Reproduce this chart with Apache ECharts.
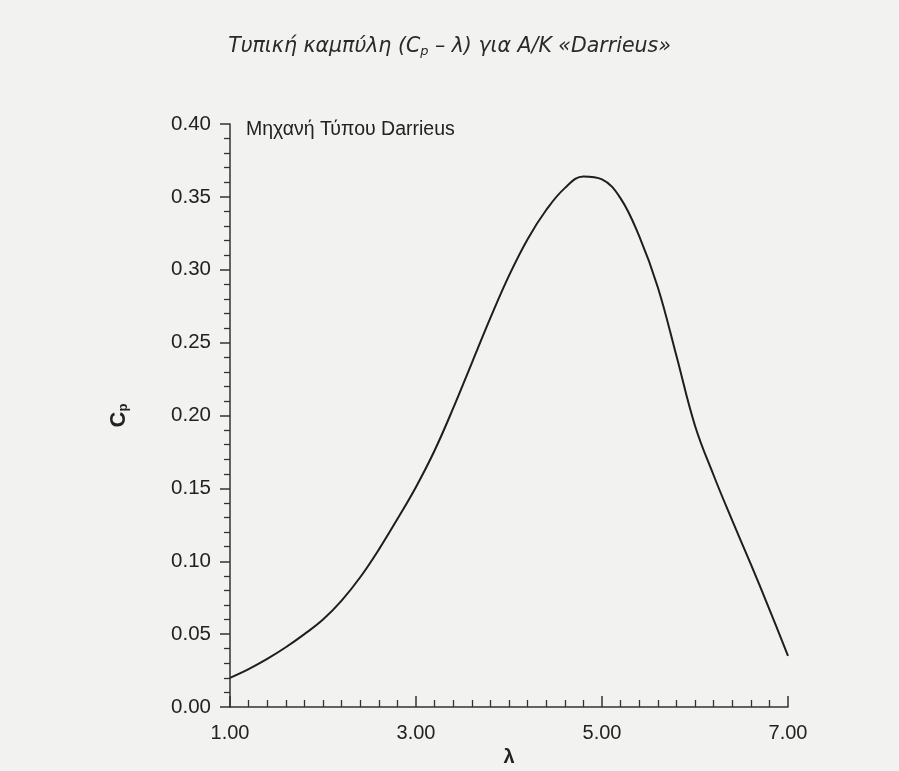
<!DOCTYPE html>
<html>
<head>
<meta charset="utf-8">
<script src="https://cdn.jsdelivr.net/npm/echarts@6/dist/echarts.min.js"></script>
<style>
html,body{margin:0;padding:0;background:#f2f2f0;}
#chart{width:899px;height:771px;}
</style>
</head>
<body>
<div id="chart"></div>
<script>
const lambdaValues = [1.0,1.2,1.4,1.6,1.8,2.0,2.2,2.4,2.6,2.8,3.0,3.2,3.4,3.6,3.8,4.0,4.2,4.4,4.6,4.8,5.0,5.2,5.4,5.6,5.8,6.0,6.2,6.4,6.6,6.8,7.0];
const cpValues = [0.020,0.026,0.033,0.041,0.050,0.060,0.073,0.089,0.108,0.129,0.151,0.176,0.205,0.236,0.267,0.296,0.321,0.341,0.356,0.364,0.362,0.349,0.323,0.288,0.241,0.193,0.159,0.128,0.098,0.067,0.035];
const seriesName = 'Μηχανή Τύπου Darrieus';
const xTicks = [1, 7, 2];   // min, max, interval
const yTicks = [0, 0.4, 0.05];

const chart = echarts.init(document.getElementById('chart'));
const font = 'Liberation Sans, Arial, sans-serif';
chart.setOption({
  backgroundColor: '#f2f2f0',
  animation: false,
  title: {
    text: '{t|Τυπική καμπύλη (C}{s|p}{t| – λ) για Α/Κ «Darrieus»}',
    left: 'center',
    top: 31,
    textStyle: {
      rich: {
        t: {fontFamily: 'DejaVu Sans', fontStyle: 'italic', fontWeight: 'normal', fontSize: 20.5, color: '#2a2a2a'},
        s: {fontFamily: 'DejaVu Sans', fontStyle: 'italic', fontWeight: 'normal', fontSize: 13, color: '#2a2a2a', verticalAlign: 'bottom', padding: [9,0,0,0]}
      }
    }
  },
  legend: {
    left: 236,
    top: 115,
    itemWidth: 0,
    itemHeight: 0,
    data: [{name: seriesName, icon: 'none'}],
    textStyle: {fontFamily: font, fontSize: 19.5, color: '#222'}
  },
  grid: {left: 230, right: 111, top: 124, bottom: 64, outerBoundsMode: 'none', containLabel: false},
  xAxis: {
    type: 'value',
    min: xTicks[0], max: xTicks[1], interval: xTicks[2],
    name: 'λ',
    nameLocation: 'middle',
    nameGap: 38,
    nameTextStyle: {fontFamily: font, fontSize: 20, fontWeight: 'bold', color: '#222'},
    axisLine: {show: true, lineStyle: {color: '#333', width: 1.5}},
    axisTick: {show: true, inside: true, length: 11, lineStyle: {color: '#333', width: 1.5}},
    minorTick: {show: true, splitNumber: 10, length: 7, lineStyle: {color: '#333', width: 1.3}},
    splitLine: {show: false},
    axisLabel: {fontFamily: font, fontSize: 20, color: '#222', margin: 16, formatter: v => v.toFixed(2)}
  },
  yAxis: {
    type: 'value',
    min: yTicks[0], max: yTicks[1], interval: yTicks[2],
    name: '{c|C}{p|p}',
    nameLocation: 'middle',
    nameGap: 100,
    nameRotate: 90,
    nameTextStyle: {
      rich: {
        c: {fontFamily: font, fontSize: 22, fontWeight: 'bold', color: '#222'},
        p: {fontFamily: font, fontSize: 13, fontWeight: 'bold', color: '#222', verticalAlign: 'bottom', padding: [10,0,0,0]}
      }
    },
    axisLine: {show: true, lineStyle: {color: '#333', width: 1.5}},
    axisTick: {show: true, inside: false, length: 10, lineStyle: {color: '#333', width: 1.5}},
    minorTick: {show: true, splitNumber: 5, length: 6, lineStyle: {color: '#333', width: 1.3}},
    splitLine: {show: false},
    axisLabel: {fontFamily: font, fontSize: 20.5, color: '#222', margin: 19, formatter: v => v.toFixed(2)}
  },
  series: [{
    name: seriesName,
    type: 'line',
    smooth: 0.4,
    showSymbol: false,
    data: lambdaValues.map((l, i) => [l, cpValues[i]]),
    lineStyle: {color: '#1e1e1e', width: 2}
  }]
});
</script>
</body>
</html>
